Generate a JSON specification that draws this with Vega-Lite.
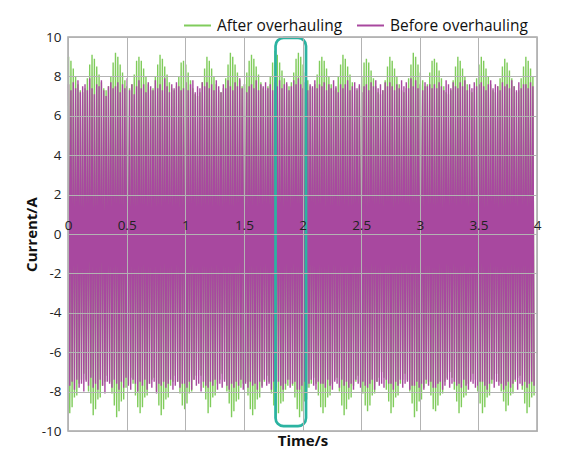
{
"$schema":"https://vega.github.io/schema/vega-lite/v6.json",
"width":469,"height":394,"autosize":"none",
"padding":{"left":68,"top":37,"right":31,"bottom":25},
"background":"white",
"config":{"font":"Open Sans","view":{"stroke":"#a8a8a8","strokeWidth":1.5},
"axis":{"labelFont":"Open Sans","titleFont":"Open Sans","labelColor":"#222","titleColor":"#111","gridColor":"#b3b3b3","gridWidth":1},
"legend":{"labelFont":"Open Sans"}},
"datasets":{
"box":[{"x1":1.77,"x2":2.03,"y1":-9.75,"y2":9.95}],
"sig":[
{"t":0.005,"a":9.0,"b":7.6},{"t":0.015,"a":-9.1,"b":-7.7},
{"t":0.025,"a":8.8,"b":7.3},{"t":0.035,"a":-8.8,"b":-7.5},
{"t":0.045,"a":8.4,"b":7.7},{"t":0.055,"a":-8.3,"b":-7.9},
{"t":0.065,"a":8.0,"b":7.4},{"t":0.075,"a":-8.2,"b":-7.4},
{"t":0.085,"a":7.6,"b":7.8},{"t":0.095,"a":-7.6,"b":-7.8},
{"t":0.105,"a":7.3,"b":7.2},{"t":0.115,"a":-7.4,"b":-7.6},
{"t":0.125,"a":7.2,"b":7.5},{"t":0.135,"a":-7.1,"b":-8.0},
{"t":0.145,"a":7.4,"b":7.6},{"t":0.155,"a":-7.4,"b":-7.5},
{"t":0.165,"a":7.9,"b":7.3},{"t":0.175,"a":-8.0,"b":-7.7},
{"t":0.185,"a":8.6,"b":7.9},{"t":0.195,"a":-8.6,"b":-7.3},
{"t":0.205,"a":9.1,"b":7.4},{"t":0.215,"a":-9.2,"b":-7.8},
{"t":0.225,"a":8.9,"b":7.1},{"t":0.235,"a":-8.9,"b":-7.6},
{"t":0.245,"a":8.5,"b":7.6},{"t":0.255,"a":-8.4,"b":-7.9},
{"t":0.265,"a":8.1,"b":7.5},{"t":0.275,"a":-8.3,"b":-7.4},
{"t":0.285,"a":7.7,"b":7.8},{"t":0.295,"a":-7.7,"b":-7.7},
{"t":0.305,"a":7.4,"b":7.3},{"t":0.315,"a":-7.5,"b":-8.1},
{"t":0.325,"a":7.3,"b":7.0},{"t":0.335,"a":-7.2,"b":-7.5},
{"t":0.345,"a":7.5,"b":7.5},{"t":0.355,"a":-7.5,"b":-7.6},
{"t":0.365,"a":8.0,"b":7.7},{"t":0.375,"a":-8.1,"b":-7.8},
{"t":0.385,"a":8.7,"b":7.4},{"t":0.395,"a":-8.7,"b":-7.4},
{"t":0.405,"a":9.2,"b":7.5},{"t":0.415,"a":-9.3,"b":-7.6},
{"t":0.425,"a":9.0,"b":7.7},{"t":0.435,"a":-9.0,"b":-7.9},
{"t":0.445,"a":8.6,"b":7.2},{"t":0.455,"a":-8.5,"b":-7.5},
{"t":0.465,"a":8.2,"b":7.6},{"t":0.475,"a":-8.4,"b":-7.8},
{"t":0.485,"a":7.8,"b":7.4},{"t":0.495,"a":-7.8,"b":-7.3},
{"t":0.505,"a":7.5,"b":7.9},{"t":0.515,"a":-7.6,"b":-7.7},
{"t":0.525,"a":7.4,"b":7.3},{"t":0.535,"a":-7.3,"b":-7.9},
{"t":0.545,"a":7.6,"b":7.6},{"t":0.555,"a":-7.6,"b":-7.4},
{"t":0.565,"a":8.1,"b":7.1},{"t":0.575,"a":-8.2,"b":-7.6},
{"t":0.585,"a":8.8,"b":7.5},{"t":0.595,"a":-8.8,"b":-8.0},
{"t":0.605,"a":9.0,"b":7.8},{"t":0.615,"a":-9.1,"b":-7.5},
{"t":0.625,"a":8.8,"b":7.4},{"t":0.635,"a":-8.8,"b":-7.7},
{"t":0.645,"a":8.4,"b":7.6},{"t":0.655,"a":-8.3,"b":-7.4},
{"t":0.665,"a":8.0,"b":7.2},{"t":0.675,"a":-8.2,"b":-7.9},
{"t":0.685,"a":7.6,"b":7.7},{"t":0.695,"a":-7.6,"b":-7.6},
{"t":0.705,"a":7.3,"b":7.5},{"t":0.715,"a":-7.4,"b":-7.8},
{"t":0.725,"a":7.4,"b":7.3},{"t":0.735,"a":-7.3,"b":-7.5},
{"t":0.745,"a":8.0,"b":7.8},{"t":0.755,"a":-8.0,"b":-8.1},
{"t":0.765,"a":8.6,"b":7.4},{"t":0.775,"a":-8.7,"b":-7.6},
{"t":0.785,"a":9.1,"b":7.6},{"t":0.795,"a":-9.2,"b":-7.7},
{"t":0.805,"a":8.9,"b":7.3},{"t":0.815,"a":-8.9,"b":-7.5},
{"t":0.825,"a":8.5,"b":7.9},{"t":0.835,"a":-8.4,"b":-7.8},
{"t":0.845,"a":8.1,"b":7.5},{"t":0.855,"a":-8.3,"b":-7.6},
{"t":0.865,"a":7.7,"b":7.2},{"t":0.875,"a":-7.7,"b":-7.4},
{"t":0.885,"a":7.4,"b":7.6},{"t":0.895,"a":-7.5,"b":-7.9},
{"t":0.905,"a":7.3,"b":7.4},{"t":0.915,"a":-7.2,"b":-7.7},
{"t":0.925,"a":7.5,"b":7.7},{"t":0.935,"a":-7.5,"b":-7.5},
{"t":0.945,"a":8.0,"b":7.5},{"t":0.955,"a":-8.1,"b":-7.8},
{"t":0.965,"a":8.7,"b":7.3},{"t":0.975,"a":-8.7,"b":-7.6},
{"t":0.985,"a":8.8,"b":7.4},{"t":0.995,"a":-8.9,"b":-7.6},
{"t":1.005,"a":8.6,"b":7.7},{"t":1.015,"a":-8.6,"b":-7.8},
{"t":1.025,"a":8.2,"b":7.3},{"t":1.035,"a":-8.1,"b":-7.5},
{"t":1.045,"a":7.8,"b":7.6},{"t":1.055,"a":-8.0,"b":-7.9},
{"t":1.065,"a":7.4,"b":7.8},{"t":1.075,"a":-7.4,"b":-7.4},
{"t":1.085,"a":7.1,"b":7.2},{"t":1.095,"a":-7.2,"b":-7.7},
{"t":1.105,"a":7.0,"b":7.5},{"t":1.115,"a":-6.9,"b":-7.6},
{"t":1.125,"a":7.2,"b":7.4},{"t":1.135,"a":-7.2,"b":-8.0},
{"t":1.145,"a":7.7,"b":7.7},{"t":1.155,"a":-7.8,"b":-7.5},
{"t":1.165,"a":8.4,"b":7.5},{"t":1.175,"a":-8.4,"b":-7.7},
{"t":1.185,"a":9.0,"b":7.7},{"t":1.195,"a":-9.1,"b":-7.8},
{"t":1.205,"a":8.8,"b":7.4},{"t":1.215,"a":-8.8,"b":-7.5},
{"t":1.225,"a":8.4,"b":7.6},{"t":1.235,"a":-8.3,"b":-7.7},
{"t":1.245,"a":8.0,"b":7.3},{"t":1.255,"a":-8.2,"b":-7.4},
{"t":1.265,"a":7.6,"b":7.8},{"t":1.275,"a":-7.6,"b":-7.9},
{"t":1.285,"a":7.3,"b":7.5},{"t":1.295,"a":-7.4,"b":-7.6},
{"t":1.305,"a":7.2,"b":7.2},{"t":1.315,"a":-7.1,"b":-7.8},
{"t":1.325,"a":7.4,"b":7.6},{"t":1.335,"a":-7.4,"b":-7.5},
{"t":1.345,"a":7.9,"b":7.4},{"t":1.355,"a":-8.0,"b":-7.7},
{"t":1.365,"a":8.6,"b":7.8},{"t":1.375,"a":-8.6,"b":-7.9},
{"t":1.385,"a":9.2,"b":7.5},{"t":1.395,"a":-9.3,"b":-7.6},
{"t":1.405,"a":9.0,"b":7.3},{"t":1.415,"a":-9.0,"b":-7.8},
{"t":1.425,"a":8.6,"b":7.7},{"t":1.435,"a":-8.5,"b":-7.5},
{"t":1.445,"a":8.2,"b":7.5},{"t":1.455,"a":-8.4,"b":-7.7},
{"t":1.465,"a":7.8,"b":7.9},{"t":1.475,"a":-7.8,"b":-7.4},
{"t":1.485,"a":7.5,"b":7.4},{"t":1.495,"a":-7.6,"b":-7.9},
{"t":1.505,"a":7.6,"b":7.6},{"t":1.515,"a":-7.5,"b":-7.6},
{"t":1.525,"a":8.2,"b":7.2},{"t":1.535,"a":-8.2,"b":-7.8},
{"t":1.545,"a":8.8,"b":7.5},{"t":1.555,"a":-8.9,"b":-7.5},
{"t":1.565,"a":9.1,"b":7.6},{"t":1.575,"a":-9.2,"b":-7.7},
{"t":1.585,"a":8.9,"b":7.4},{"t":1.595,"a":-8.9,"b":-7.6},
{"t":1.605,"a":8.5,"b":7.8},{"t":1.615,"a":-8.4,"b":-7.9},
{"t":1.625,"a":8.1,"b":7.3},{"t":1.635,"a":-8.3,"b":-7.5},
{"t":1.645,"a":7.7,"b":7.6},{"t":1.655,"a":-7.7,"b":-7.8},
{"t":1.665,"a":7.4,"b":7.5},{"t":1.675,"a":-7.5,"b":-7.4},
{"t":1.685,"a":7.3,"b":7.7},{"t":1.695,"a":-7.2,"b":-7.7},
{"t":1.705,"a":7.5,"b":7.4},{"t":1.715,"a":-7.5,"b":-7.6},
{"t":1.725,"a":8.0,"b":7.6},{"t":1.735,"a":-8.1,"b":-7.9},
{"t":1.745,"a":8.7,"b":7.3},{"t":1.755,"a":-8.7,"b":-7.5},
{"t":1.765,"a":9.3,"b":7.7},{"t":1.775,"a":-9.4,"b":-7.8},
{"t":1.785,"a":9.1,"b":7.5},{"t":1.795,"a":-9.1,"b":-7.5},
{"t":1.805,"a":8.7,"b":7.8},{"t":1.815,"a":-8.6,"b":-7.7},
{"t":1.825,"a":8.3,"b":7.4},{"t":1.835,"a":-8.5,"b":-7.9},
{"t":1.845,"a":7.9,"b":7.6},{"t":1.855,"a":-7.9,"b":-7.6},
{"t":1.865,"a":7.6,"b":7.7},{"t":1.875,"a":-7.7,"b":-7.4},
{"t":1.885,"a":7.5,"b":7.3},{"t":1.895,"a":-7.4,"b":-7.8},
{"t":1.905,"a":7.7,"b":7.5},{"t":1.915,"a":-7.7,"b":-7.6},
{"t":1.925,"a":8.2,"b":7.8},{"t":1.935,"a":-8.3,"b":-7.5},
{"t":1.945,"a":8.9,"b":7.6},{"t":1.955,"a":-8.9,"b":-7.9},
{"t":1.965,"a":9.2,"b":7.9},{"t":1.975,"a":-9.3,"b":-7.9},
{"t":1.985,"a":9.0,"b":7.6},{"t":1.995,"a":-9.0,"b":-7.7},
{"t":2.005,"a":8.6,"b":7.4},{"t":2.015,"a":-8.5,"b":-7.5},
{"t":2.025,"a":8.2,"b":7.7},{"t":2.035,"a":-8.4,"b":-7.8},
{"t":2.045,"a":7.8,"b":7.3},{"t":2.055,"a":-7.8,"b":-7.6},
{"t":2.065,"a":7.5,"b":7.6},{"t":2.075,"a":-7.6,"b":-7.4},
{"t":2.085,"a":7.4,"b":7.5},{"t":2.095,"a":-7.3,"b":-7.7},
{"t":2.105,"a":7.6,"b":7.8},{"t":2.115,"a":-7.6,"b":-7.9},
{"t":2.125,"a":8.1,"b":7.4},{"t":2.135,"a":-8.2,"b":-7.5},
{"t":2.145,"a":8.8,"b":7.6},{"t":2.155,"a":-8.8,"b":-7.6},
{"t":2.165,"a":9.0,"b":7.5},{"t":2.175,"a":-9.1,"b":-7.6},
{"t":2.185,"a":8.8,"b":7.7},{"t":2.195,"a":-8.8,"b":-7.8},
{"t":2.205,"a":8.4,"b":7.3},{"t":2.215,"a":-8.3,"b":-7.4},
{"t":2.225,"a":8.0,"b":7.6},{"t":2.235,"a":-8.2,"b":-7.7},
{"t":2.245,"a":7.6,"b":7.4},{"t":2.255,"a":-7.6,"b":-7.9},
{"t":2.265,"a":7.3,"b":7.8},{"t":2.275,"a":-7.4,"b":-7.5},
{"t":2.285,"a":7.4,"b":7.5},{"t":2.295,"a":-7.3,"b":-7.6},
{"t":2.305,"a":8.0,"b":7.2},{"t":2.315,"a":-8.0,"b":-7.8},
{"t":2.325,"a":8.6,"b":7.6},{"t":2.335,"a":-8.7,"b":-7.4},
{"t":2.345,"a":9.1,"b":7.4},{"t":2.355,"a":-9.2,"b":-7.7},
{"t":2.365,"a":8.9,"b":7.6},{"t":2.375,"a":-8.9,"b":-7.5},
{"t":2.385,"a":8.5,"b":7.8},{"t":2.395,"a":-8.4,"b":-7.8},
{"t":2.405,"a":8.1,"b":7.3},{"t":2.415,"a":-8.3,"b":-7.6},
{"t":2.425,"a":7.7,"b":7.5},{"t":2.435,"a":-7.7,"b":-7.9},
{"t":2.445,"a":7.4,"b":7.7},{"t":2.455,"a":-7.5,"b":-7.4},
{"t":2.465,"a":7.3,"b":7.4},{"t":2.475,"a":-7.2,"b":-7.6},
{"t":2.485,"a":7.5,"b":7.6},{"t":2.495,"a":-7.5,"b":-7.8},
{"t":2.505,"a":8.0,"b":7.2},{"t":2.515,"a":-8.1,"b":-7.5},
{"t":2.525,"a":8.7,"b":7.5},{"t":2.535,"a":-8.7,"b":-7.7},
{"t":2.545,"a":8.9,"b":7.6},{"t":2.555,"a":-9.0,"b":-7.8},
{"t":2.565,"a":8.7,"b":7.3},{"t":2.575,"a":-8.7,"b":-7.6},
{"t":2.585,"a":8.3,"b":7.7},{"t":2.595,"a":-8.2,"b":-7.4},
{"t":2.605,"a":7.9,"b":7.5},{"t":2.615,"a":-8.1,"b":-7.9},
{"t":2.625,"a":7.5,"b":7.8},{"t":2.635,"a":-7.5,"b":-7.5},
{"t":2.645,"a":7.2,"b":7.4},{"t":2.655,"a":-7.3,"b":-7.7},
{"t":2.665,"a":7.1,"b":7.6},{"t":2.675,"a":-7.0,"b":-7.6},
{"t":2.685,"a":7.3,"b":7.3},{"t":2.695,"a":-7.3,"b":-7.8},
{"t":2.705,"a":7.8,"b":7.7},{"t":2.715,"a":-7.9,"b":-7.4},
{"t":2.725,"a":8.5,"b":7.5},{"t":2.735,"a":-8.5,"b":-7.6},
{"t":2.745,"a":9.0,"b":7.7},{"t":2.755,"a":-9.1,"b":-7.6},
{"t":2.765,"a":8.8,"b":7.5},{"t":2.775,"a":-8.8,"b":-7.9},
{"t":2.785,"a":8.4,"b":7.3},{"t":2.795,"a":-8.3,"b":-7.5},
{"t":2.805,"a":8.0,"b":7.6},{"t":2.815,"a":-8.2,"b":-7.7},
{"t":2.825,"a":7.6,"b":7.4},{"t":2.835,"a":-7.6,"b":-7.4},
{"t":2.845,"a":7.3,"b":7.8},{"t":2.855,"a":-7.4,"b":-7.8},
{"t":2.865,"a":7.2,"b":7.5},{"t":2.875,"a":-7.1,"b":-7.6},
{"t":2.885,"a":7.4,"b":7.7},{"t":2.895,"a":-7.4,"b":-7.5},
{"t":2.905,"a":7.9,"b":7.4},{"t":2.915,"a":-8.0,"b":-7.9},
{"t":2.925,"a":8.6,"b":7.9},{"t":2.935,"a":-8.6,"b":-7.7},
{"t":2.945,"a":9.2,"b":7.5},{"t":2.955,"a":-9.3,"b":-7.7},
{"t":2.965,"a":9.0,"b":7.8},{"t":2.975,"a":-9.0,"b":-7.5},
{"t":2.985,"a":8.6,"b":7.4},{"t":2.995,"a":-8.5,"b":-7.8},
{"t":3.005,"a":8.2,"b":7.6},{"t":3.015,"a":-8.4,"b":-7.6},
{"t":3.025,"a":7.8,"b":7.3},{"t":3.035,"a":-7.8,"b":-7.9},
{"t":3.045,"a":7.5,"b":7.7},{"t":3.055,"a":-7.6,"b":-7.4},
{"t":3.065,"a":7.6,"b":7.5},{"t":3.075,"a":-7.5,"b":-7.7},
{"t":3.085,"a":8.2,"b":7.6},{"t":3.095,"a":-8.2,"b":-7.5},
{"t":3.105,"a":8.8,"b":7.4},{"t":3.115,"a":-8.9,"b":-7.8},
{"t":3.125,"a":8.9,"b":7.6},{"t":3.135,"a":-9.0,"b":-7.8},
{"t":3.145,"a":8.7,"b":7.4},{"t":3.155,"a":-8.7,"b":-7.6},
{"t":3.165,"a":8.3,"b":7.7},{"t":3.175,"a":-8.2,"b":-7.5},
{"t":3.185,"a":7.9,"b":7.5},{"t":3.195,"a":-8.1,"b":-7.9},
{"t":3.205,"a":7.5,"b":7.3},{"t":3.215,"a":-7.5,"b":-7.7},
{"t":3.225,"a":7.2,"b":7.8},{"t":3.235,"a":-7.3,"b":-7.4},
{"t":3.245,"a":7.1,"b":7.6},{"t":3.255,"a":-7.0,"b":-7.8},
{"t":3.265,"a":7.3,"b":7.4},{"t":3.275,"a":-7.3,"b":-7.6},
{"t":3.285,"a":7.8,"b":7.7},{"t":3.295,"a":-7.9,"b":-7.5},
{"t":3.305,"a":8.5,"b":7.5},{"t":3.315,"a":-8.5,"b":-7.7},
{"t":3.325,"a":9.0,"b":7.4},{"t":3.335,"a":-9.1,"b":-7.6},
{"t":3.345,"a":8.8,"b":7.7},{"t":3.355,"a":-8.8,"b":-7.8},
{"t":3.365,"a":8.4,"b":7.5},{"t":3.375,"a":-8.3,"b":-7.4},
{"t":3.385,"a":8.0,"b":7.8},{"t":3.395,"a":-8.2,"b":-7.7},
{"t":3.405,"a":7.6,"b":7.3},{"t":3.415,"a":-7.6,"b":-7.9},
{"t":3.425,"a":7.3,"b":7.6},{"t":3.435,"a":-7.4,"b":-7.5},
{"t":3.445,"a":7.2,"b":7.4},{"t":3.455,"a":-7.1,"b":-7.6},
{"t":3.465,"a":7.4,"b":7.7},{"t":3.475,"a":-7.4,"b":-7.8},
{"t":3.485,"a":7.9,"b":7.5},{"t":3.495,"a":-8.0,"b":-7.7},
{"t":3.505,"a":8.6,"b":7.6},{"t":3.515,"a":-8.6,"b":-7.5},
{"t":3.525,"a":9.0,"b":7.7},{"t":3.535,"a":-9.1,"b":-7.5},
{"t":3.545,"a":8.8,"b":7.5},{"t":3.555,"a":-8.8,"b":-7.7},
{"t":3.565,"a":8.4,"b":7.3},{"t":3.575,"a":-8.3,"b":-7.9},
{"t":3.585,"a":8.0,"b":7.6},{"t":3.595,"a":-8.2,"b":-7.6},
{"t":3.605,"a":7.6,"b":7.8},{"t":3.615,"a":-7.6,"b":-7.4},
{"t":3.625,"a":7.3,"b":7.4},{"t":3.635,"a":-7.4,"b":-7.8},
{"t":3.645,"a":7.2,"b":7.6},{"t":3.655,"a":-7.1,"b":-7.5},
{"t":3.665,"a":7.5,"b":7.5},{"t":3.675,"a":-7.5,"b":-7.7},
{"t":3.685,"a":7.9,"b":7.3},{"t":3.695,"a":-8.0,"b":-7.6},
{"t":3.705,"a":8.5,"b":7.7},{"t":3.715,"a":-8.5,"b":-7.9},
{"t":3.725,"a":8.9,"b":7.5},{"t":3.735,"a":-9.0,"b":-7.7},
{"t":3.745,"a":8.7,"b":7.6},{"t":3.755,"a":-8.7,"b":-7.5},
{"t":3.765,"a":8.3,"b":7.4},{"t":3.775,"a":-8.2,"b":-7.8},
{"t":3.785,"a":7.9,"b":7.8},{"t":3.795,"a":-8.1,"b":-7.6},
{"t":3.805,"a":7.5,"b":7.5},{"t":3.815,"a":-7.5,"b":-7.4},
{"t":3.825,"a":7.2,"b":7.3},{"t":3.835,"a":-7.3,"b":-7.9},
{"t":3.845,"a":7.3,"b":7.7},{"t":3.855,"a":-7.2,"b":-7.6},
{"t":3.865,"a":7.9,"b":7.4},{"t":3.875,"a":-7.9,"b":-7.7},
{"t":3.885,"a":8.5,"b":7.6},{"t":3.895,"a":-8.6,"b":-7.5},
{"t":3.905,"a":9.0,"b":7.6},{"t":3.915,"a":-9.1,"b":-7.8},
{"t":3.925,"a":8.8,"b":7.4},{"t":3.935,"a":-8.8,"b":-7.6},
{"t":3.945,"a":8.4,"b":7.7},{"t":3.955,"a":-8.3,"b":-7.5},
{"t":3.965,"a":8.0,"b":7.5},{"t":3.975,"a":-8.2,"b":-7.7}
]},
"layer":[
{"data":{"name":"sig"},
 "mark":{"type":"line","strokeWidth":1.4,"interpolate":"linear"},
 "encoding":{
  "x":{"field":"t","type":"quantitative","scale":{"domain":[0,4],"nice":false,"zero":false},
   "axis":{"values":[0,0.5,1,1.5,2,2.5,3,3.5,4],"grid":true,"labels":false,"ticks":false,"domain":false,"title":"Time/s","titleFontSize":15,"titleFontWeight":"bold","titlePadding":2,"zindex":1}},
  "y":{"field":"a","type":"quantitative","scale":{"domain":[-10,10],"nice":false},
   "axis":{"values":[-10,-8,-6,-4,-2,0,2,4,6,8,10],"labelExpr":"datum.value + ''","grid":true,"ticks":false,"domain":false,"labelFontSize":13.5,"labelPadding":7,"title":"Current/A","titleFontSize":15,"titleFontWeight":"bold","titlePadding":2,"zindex":1}},
  "color":{"datum":"After overhauling","type":"nominal",
   "scale":{"domain":["After overhauling","Before overhauling"],"range":["#80cc5c","#a8489f"]},
   "legend":{"orient":"none","legendX":115,"legendY":-26,"direction":"horizontal","title":null,"symbolType":"stroke","symbolSize":729,"symbolStrokeWidth":2,"labelFontSize":15.5,"labelOffset":5,"columnPadding":10,"labelColor":"#111"}}
 }},
{"data":{"name":"sig"},
 "mark":{"type":"line","strokeWidth":1.4,"interpolate":"linear"},
 "encoding":{
  "x":{"field":"t","type":"quantitative","axis":null},
  "y":{"field":"b","type":"quantitative","axis":{"values":[-10,-8,-6,-4,-2,0,2,4,6,8,10],"labelExpr":"datum.value + ''","title":"Current/A"}},
  "color":{"datum":"Before overhauling","type":"nominal"}
 }},
{"data":{"name":"box"},
 "mark":{"type":"rect","filled":false,"stroke":"#2bb3a1","strokeWidth":2.7,"cornerRadius":8},
 "encoding":{
  "x":{"field":"x1","type":"quantitative",
   "axis":{"values":[0,0.5,1,1.5,2,2.5,3,3.5,4],"format":"~g","offset":-197,"grid":false,"ticks":false,"domain":false,"title":null,"labelFontSize":13.5,"labelPadding":2,"labelFlush":false,"labelOverlap":false,"zindex":2}},
  "x2":{"field":"x2"},
  "y":{"field":"y1","type":"quantitative","axis":{"values":[-10,-8,-6,-4,-2,0,2,4,6,8,10],"labelExpr":"datum.value + ''","title":"Current/A"}},
  "y2":{"field":"y2"}
 }}
],
"resolve":{"axis":{"x":"independent"}}
}
